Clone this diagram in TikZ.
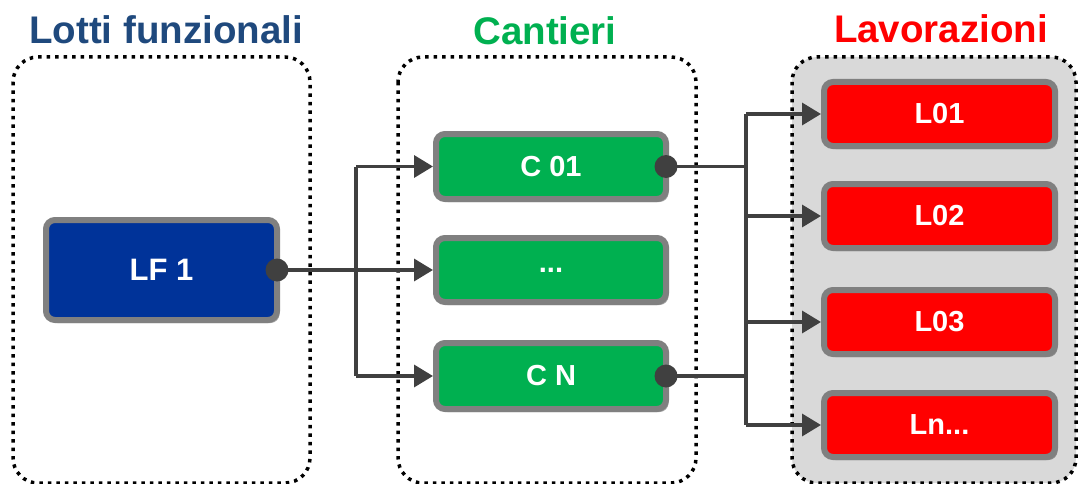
\documentclass[tikz,border=0pt]{standalone}
\usepackage{fontspec}
\setmainfont{Liberation Sans}
\usetikzlibrary{arrows.meta,shadows}
\definecolor{titleblue}{HTML}{1F497D}
\definecolor{cgreen}{HTML}{00B050}
\definecolor{cred}{HTML}{FF0000}
\definecolor{lfblue}{HTML}{003399}
\definecolor{bordergray}{HTML}{808080}
\definecolor{conn}{HTML}{404040}
\definecolor{panel}{HTML}{D9D9D9}
\begin{document}
\begin{tikzpicture}[x=1pt,y=-1pt,
  cont/.style={draw=black,line width=3.5pt,dash pattern=on 3.5pt off 5pt,rounded corners=25pt},
  box/.style={draw=bordergray,line width=6pt,rounded corners=9pt,outer sep=0pt,
    text=white,font=\bfseries\fontsize{29}{30}\selectfont,
    minimum width=231pt,minimum height=64pt,inner sep=0pt,
    drop shadow={shadow xshift=2.5pt,shadow yshift=-3pt,opacity=0.35,fill=black}},
  ttl/.style={font=\bfseries\fontsize{38.5}{40}\selectfont,anchor=base,inner sep=0pt},
  line/.style={draw=conn,line width=3.5pt},
  arr/.style={line,-{Triangle[length=19pt,width=22pt]}},
  dotc/.style={circle,fill=conn,minimum size=23pt,inner sep=0pt}]
\useasboundingbox (0,0) rectangle (1078,484);
% containers
\draw[cont] (13,57) rectangle (310,483);
\draw[cont] (398,57) rectangle (696,483);
\draw[cont,fill=panel] (792,57) rectangle (1076,483);
% titles
\node[ttl,text=titleblue] (t1) at (166,44) {Lotti funzionali};
\node[ttl,text=cgreen] (t2) at (545,45) {Cantieri};
\node[ttl,text=cred] (t3) at (941,43) {Lavorazioni};
% boxes
\node[box,fill=lfblue,minimum height=100pt,font=\bfseries\fontsize{31}{32}\selectfont] (lf) at (161.5,270) {LF 1};
\node[box,fill=cgreen,minimum width=230pt,minimum height=65pt] (c1) at (551,166.5) {C 01};
\node[box,fill=cgreen,minimum width=230pt] (c2) at (551,270) {...};
\node[box,fill=cgreen,minimum width=230pt,minimum height=66pt] (cn) at (551,376) {C N};
\node[box,fill=cred] (l1) at (939.5,114) {L01};
\node[box,fill=cred] (l2) at (939.5,216) {L02};
\node[box,fill=cred] (l3) at (939.5,322) {L03};
\node[box,fill=cred] (ln) at (939.5,425) {Ln...};
% junction coordinates
\coordinate (ja) at (356,270);
\coordinate (jb) at (746,270);
% left connectors
\draw[arr] (lf.east) -- ([xshift=-3pt]c2.west);
\draw[line] (ja |- c1.west) -- (ja |- cn.west);
\draw[arr] (ja |- c1.west) -- ([xshift=-3pt]c1.west);
\draw[arr] (ja |- cn.west) -- ([xshift=-3pt]cn.west);
% right connectors
\draw[line] (c1.east) -- (jb |- c1.east);
\draw[line] (cn.east) -- (jb |- cn.east);
\draw[line] (jb |- l1.west) -- (jb |- ln.west);
\draw[arr] (jb |- l1.west) -- ([xshift=-3pt]l1.west);
\draw[arr] (jb |- l2.west) -- ([xshift=-3pt]l2.west);
\draw[arr] (jb |- l3.west) -- ([xshift=-3pt]l3.west);
\draw[arr] (jb |- ln.west) -- ([xshift=-3pt]ln.west);
% dots
\node[dotc] (d0) at (lf.east) {};
\node[dotc] (d1) at (c1.east) {};
\node[dotc] (d2) at (cn.east) {};
\end{tikzpicture}
\end{document}
